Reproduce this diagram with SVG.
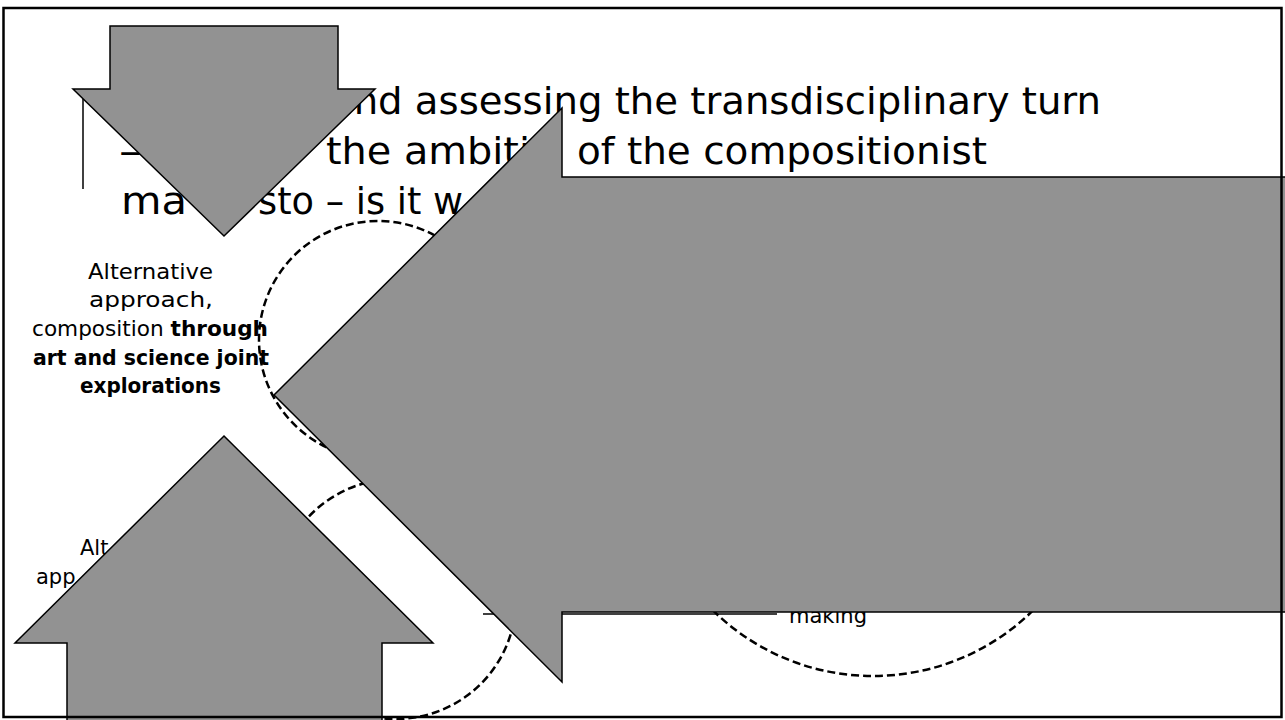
<svg xmlns="http://www.w3.org/2000/svg" width="1285" height="720" viewBox="0 0 1285 720">
<style>
.title{font-family:"DejaVu Sans","Liberation Sans",sans-serif;font-size:38px;fill:#000}
.lbl{font-family:"DejaVu Sans","Liberation Sans",sans-serif;font-size:21px;fill:#000}
.b{font-weight:bold}
.arrow{fill:#929292;stroke:#000;stroke-width:1.5;stroke-linejoin:miter}
.dash{fill:none;stroke:#000;stroke-width:2.5;stroke-dasharray:8 4}
.lead{stroke:#000;stroke-width:1.5;fill:none}
</style>
<rect width="1285" height="720" fill="#fff"/>
<g id="title">
<line class="lead" x1="83" y1="89" x2="83" y2="189"/>
<text class="title" x="330" y="114" textLength="771" lengthAdjust="spacingAndGlyphs">and assessing the transdisciplinary turn</text>
<text class="title" x="119" y="164" textLength="23" lengthAdjust="spacingAndGlyphs">–</text>
<text class="title" x="326" y="164" textLength="204" lengthAdjust="spacingAndGlyphs">the ambiti</text>
<text class="title" x="577" y="164" textLength="410" lengthAdjust="spacingAndGlyphs">of the compositionist</text>
<text class="title" x="121" y="214" textLength="66" lengthAdjust="spacingAndGlyphs">ma</text>
<text class="title" x="258" y="214" textLength="205" lengthAdjust="spacingAndGlyphs">sto – is it w</text>
</g>
<g id="label-art-science">
<text class="lbl" x="88" y="279" textLength="125" lengthAdjust="spacingAndGlyphs">Alternative</text>
<text class="lbl" x="89" y="307" textLength="124" lengthAdjust="spacingAndGlyphs">approach,</text>
<text class="lbl" x="32" y="336" textLength="236" lengthAdjust="spacingAndGlyphs">composition <tspan class="b">through</tspan></text>
<text class="lbl b" x="33" y="365" textLength="236" lengthAdjust="spacingAndGlyphs">art and science joint</text>
<text class="lbl b" x="80" y="393" textLength="141" lengthAdjust="spacingAndGlyphs">explorations</text>
</g>
<g id="label-alt2">
<text class="lbl" x="80" y="555">Alt</text>
<text class="lbl" x="36" y="584">app</text>
</g>
<g id="label-making">
<text class="lbl" x="789" y="623">making</text>
</g>
<g id="circles">
<circle class="dash" cx="378" cy="340" r="119"/>
<circle class="dash" cx="396" cy="599" r="120"/>
<circle class="dash" cx="873" cy="448" r="228"/>
</g>
<g id="connectors">
<line class="lead" x1="483" y1="614" x2="777" y2="614"/>
</g>
<g id="arrow-down">
<path class="arrow" d="M110,26 H338 V89 H375 L224,236 L73,89 H110 Z"/>
</g>
<g id="arrow-up">
<path class="arrow" d="M224,436 L433,643 H382 V722 H67 V643 H15 Z"/>
</g>
<g id="arrow-left">
<path class="arrow" d="M274,395 L562,108 V177 H1292 V612 H562 V682 Z"/>
</g>
<rect id="frame" x="3.5" y="8" width="1278" height="709" fill="none" stroke="#000" stroke-width="2.5"/>
</svg>
